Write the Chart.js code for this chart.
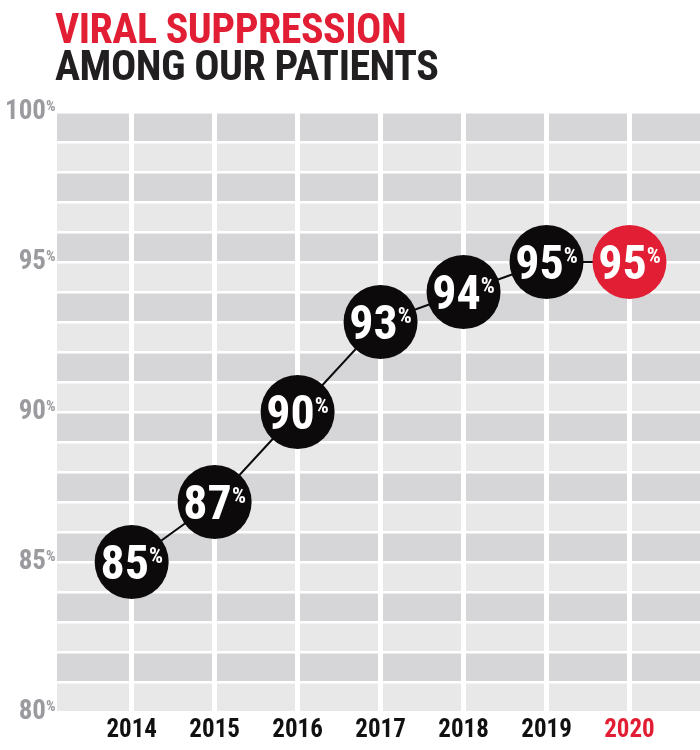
<!DOCTYPE html>
<html>
<head>
<meta charset="utf-8">
<script src="https://cdn.jsdelivr.net/npm/chart.js@4.4.1/dist/chart.umd.min.js"></script>
<style>
  body { margin: 0; background: #fff; }
  #wrap { position: relative; width: 700px; height: 750px; }
  #title {
    position: absolute; left: 55px; top: 10px; margin: 0;
    font-family: 'Roboto Condensed', Roboto, sans-serif; font-weight: 700;
    font-size: 42px; line-height: 37px; letter-spacing: -0.5px;
    transform-origin: left top;
  }
  #title .red { color: #e11e33; }
  #title .dark { color: #221f20; }
</style>
</head>
<body>
<div id="wrap">
  <canvas id="chart" width="700" height="750"></canvas>
  <div id="title"><span class="red">VIRAL SUPPRESSION</span><br><span class="dark">AMONG OUR PATIENTS</span></div>
</div>
<script>
// Daten
const years = [2014, 2015, 2016, 2017, 2018, 2019, 2020];
const suppression = [85, 87, 90, 93, 94, 95, 95];
const yLabels = [80, 85, 90, 95, 100];
const gridSteps = [80, 81, 82, 83, 84, 85, 86, 87, 88, 89, 90, 91, 92, 93, 94, 95, 96, 97, 98, 99, 100];

const RED = '#e11e33';
const BLACK = '#0d0a0b';
const FONT = "'Roboto Condensed', Roboto, sans-serif";

// Abwechselnd helle/dunkle Zeilen im Hintergrund
const bandsPlugin = {
    id: 'bands',
    beforeDraw(chart) {
        const { ctx, chartArea: a, scales: { y } } = chart;
        ctx.save();
        ctx.fillStyle = '#e8e8e8';
        ctx.fillRect(a.left, a.top, a.right - a.left, a.bottom - a.top);
        ctx.fillStyle = '#d6d6d8';
        gridSteps.slice(0, -1).forEach(v => {
            if (v % 2 === 1) {
                const top = y.getPixelForValue(v + 1);
                const bottom = y.getPixelForValue(v);
                ctx.fillRect(a.left, top, a.right - a.left, bottom - top);
            }
        });
        ctx.restore();
    }
};

// Y-Beschriftung mit hochgestelltem %
const yLabelPlugin = {
    id: 'yLabels',
    afterDraw(chart) {
        const { ctx, scales: { y } } = chart;
        ctx.save();
        ctx.fillStyle = '#9b9b9f';
        yLabels.forEach(v => {
            const py = y.getPixelForValue(v);
            ctx.font = `bold 27px ${FONT}`;
            ctx.textAlign = 'right';
            ctx.textBaseline = 'middle';
            ctx.fillText(String(v), 46, py);
            ctx.font = `bold 15px ${FONT}`;
            ctx.textAlign = 'left';
            ctx.textBaseline = 'top';
            ctx.fillText('%', 46, py - 12);
        });
        ctx.restore();
    }
};

// Werte in den Kreisen
const pointLabelPlugin = {
    id: 'pointLabels',
    afterDatasetsDraw(chart) {
        const { ctx } = chart;
        const meta = chart.getDatasetMeta(0);
        ctx.save();
        ctx.fillStyle = '#fff';
        ctx.textBaseline = 'alphabetic';
        ctx.textAlign = 'left';
        meta.data.forEach((pt, i) => {
            const num = String(suppression[i]);
            ctx.font = `bold 48px ${FONT}`;
            const w1 = ctx.measureText(num).width;
            ctx.font = `bold 22px ${FONT}`;
            const w2 = ctx.measureText('%').width;
            const x0 = pt.x - (w1 + w2) / 2;
            ctx.font = `bold 48px ${FONT}`;
            ctx.fillText(num, x0, pt.y + 17);
            ctx.font = `bold 22px ${FONT}`;
            ctx.fillText('%', x0 + w1, pt.y + 1);
        });
        ctx.restore();
    }
};

new Chart(document.getElementById('chart'), {
    type: 'line',
    data: {
        datasets: [{
            data: years.map((yr, i) => ({ x: yr, y: suppression[i] })),
            borderColor: BLACK,
            borderWidth: 2,
            pointRadius: 37,
            pointHoverRadius: 37,
            pointBorderWidth: 0,
            pointBackgroundColor: years.map(yr => yr === 2020 ? RED : BLACK),
            clip: false
        }]
    },
    options: {
        responsive: false,
        animation: false,
        layout: { autoPadding: false, padding: { top: 112, left: 57, right: 0, bottom: 0 } },
        plugins: { legend: { display: false }, tooltip: { enabled: false } },
        scales: {
            x: {
                type: 'linear',
                min: 2013.1,
                max: 2020.85,
                afterBuildTicks: s => { s.ticks = years.map(v => ({ value: v })); },
                border: { display: false },
                grid: { color: '#fff', lineWidth: 5, drawTicks: false },
                ticks: {
                    padding: 4,
                    font: { family: FONT, weight: 'bold', size: 25 },
                    color: c => c.tick.value === 2020 ? RED : '#111',
                    callback: v => String(v)
                }
            },
            y: {
                min: 80,
                max: 100,
                afterBuildTicks: s => { s.ticks = gridSteps.map(v => ({ value: v })); },
                border: { display: false },
                grid: { color: '#fff', lineWidth: 2.5, drawTicks: false },
                ticks: { display: false }
            }
        }
    },
    plugins: [bandsPlugin, yLabelPlugin, pointLabelPlugin]
});
</script>
</body>
</html>
